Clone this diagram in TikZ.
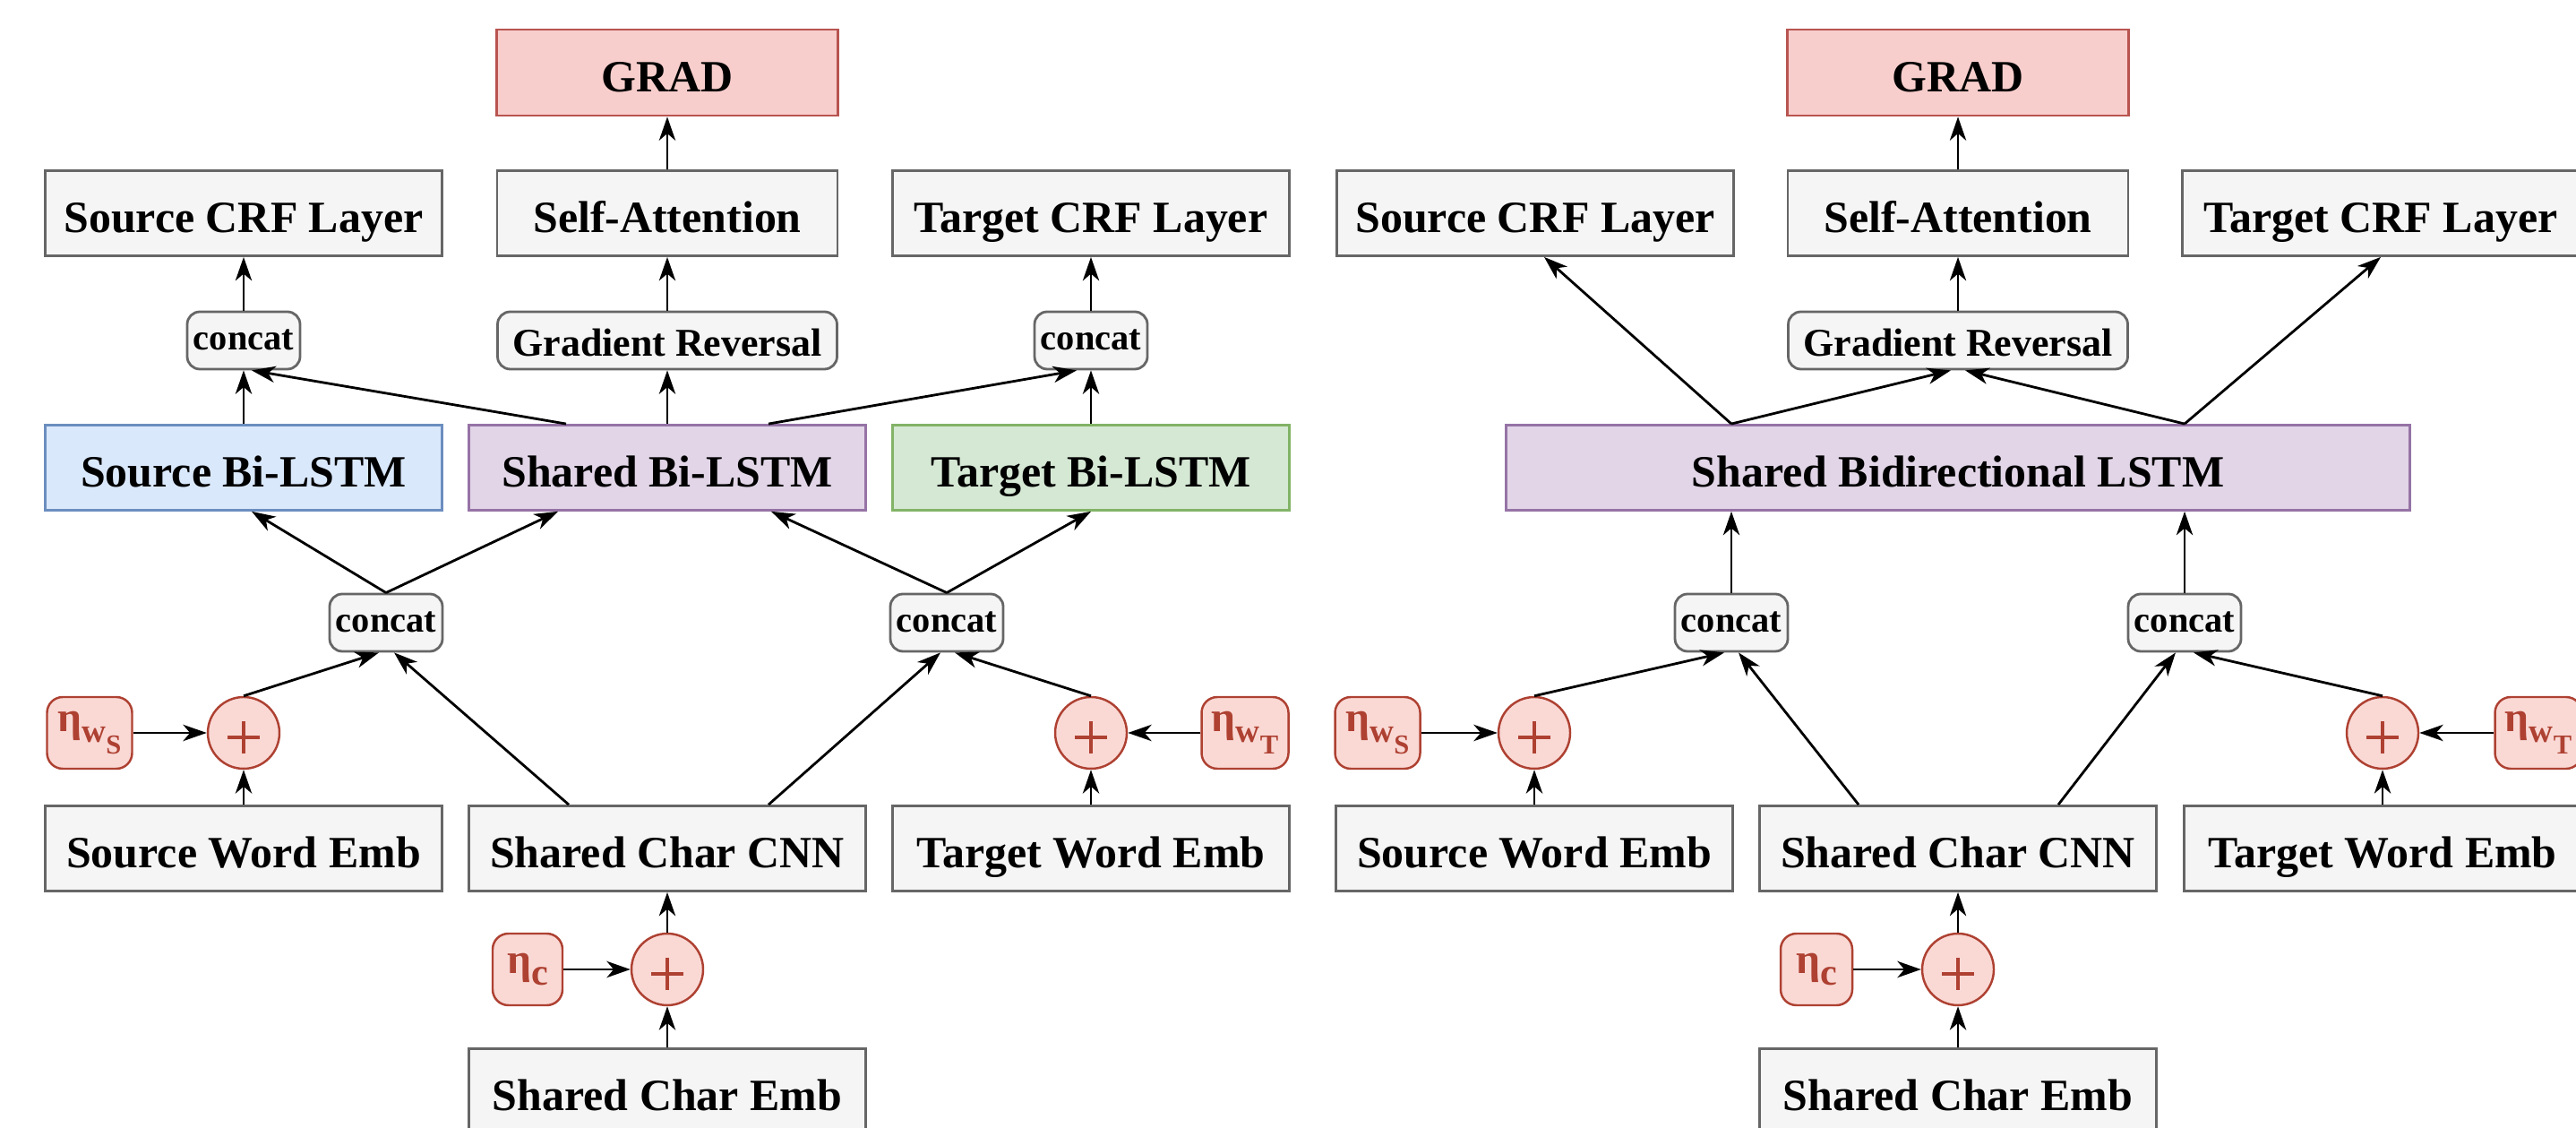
\documentclass[tikz,border=0pt]{standalone}
\usepackage{fontspec}
\setmainfont{Liberation Serif}
\usepackage{tikz}
\usetikzlibrary{arrows.meta, positioning, calc}

\definecolor{boxgray}{HTML}{F5F5F5}
\definecolor{edgegray}{HTML}{666666}
\definecolor{gradfill}{HTML}{F8CECC}
\definecolor{graddraw}{HTML}{B85450}
\definecolor{srcfill}{HTML}{DAE8FC}
\definecolor{srcdraw}{HTML}{6C8EBF}
\definecolor{shfill}{HTML}{E1D5E7}
\definecolor{shdraw}{HTML}{9673A6}
\definecolor{tgtfill}{HTML}{D5E8D4}
\definecolor{tgtdraw}{HTML}{82B366}
\definecolor{noisefill}{HTML}{FAD9D5}
\definecolor{noisedraw}{HTML}{AE4132}

\begin{document}
\begin{tikzpicture}[
    layer/.style = {rectangle, draw=edgegray, fill=boxgray, line width=0.8pt, minimum width=4.43cm, minimum height=0.95cm, inner sep=0pt, text height=12.6pt, text depth=0.4pt, font=\fontsize{14.2}{16}\selectfont\bfseries},
    gradbox/.style = {layer, draw=graddraw, fill=gradfill, minimum width=3.81cm, minimum height=0.96cm},
    concat/.style = {layer, rounded corners=4pt, minimum width=1.26cm, minimum height=0.64cm, text height=8pt, text depth=2pt, font=\fontsize{11.5}{13}\selectfont\bfseries},
    grl/.style = {concat, minimum width=3.79cm, text height=11pt, text depth=0.8pt, font=\fontsize{12.5}{14}\selectfont\bfseries},
    noise/.style = {rectangle, rounded corners=5pt, draw=noisedraw, fill=noisefill, line width=0.7pt, minimum width=0.95cm, minimum height=0.80cm, inner sep=0pt, text=noisedraw, font=\fontsize{13.5}{14}\selectfont\bfseries},
    plus/.style = {circle, draw=noisedraw, fill=noisefill, line width=0.7pt, minimum size=0.80cm, inner sep=0pt,
        path picture={\draw[noisedraw, line width=1.1pt]
            ($(path picture bounding box.center)+(-0.18,-0.05)$) -- ++(0.36,0)
            ($(path picture bounding box.center)+(0,-0.23)$) -- ++(0,0.36);}},
    flow/.style = {-{Stealth[length=7.5pt, width=5.2pt, inset=2.2pt]}, line width=0.8pt}
]
\useasboundingbox (0,0) rectangle (28.76,12.59);

% ---------------- left panel ----------------
\node[gradbox] (Lgrad) at (7.45,11.78) {GRAD};
\node[layer] (Lsrccrf) at (2.72,10.21) {Source CRF Layer};
\node[layer, minimum width=3.80cm] (Latt) at (7.45,10.21) {Self-Attention};
\node[layer] (Ltgtcrf) at (12.18,10.21) {Target CRF Layer};
\node[concat] (Lcattop1) at (2.72,8.79) {concat};
\node[grl] (Lgrl) at (7.45,8.79) {Gradient Reversal};
\node[concat] (Lcattop2) at (12.18,8.79) {concat};
\node[layer, fill=srcfill, draw=srcdraw] (Lsrclstm) at (2.72,7.37) {Source Bi-LSTM};
\node[layer, fill=shfill, draw=shdraw] (Lshlstm) at (7.45,7.37) {Shared Bi-LSTM};
\node[layer, fill=tgtfill, draw=tgtdraw] (Ltgtlstm) at (12.18,7.37) {Target Bi-LSTM};
\node[concat] (Lcat1) at (4.31,5.64) {concat};
\node[concat] (Lcat2) at (10.57,5.64) {concat};
\node[noise] (Lnoisews) at (1.00,4.41) {η\raisebox{-3.4pt}{\fontsize{10.6}{11}\selectfont w\raisebox{-3.6pt}{\fontsize{8.7}{9}\selectfont S}}};
\node[plus] (Lplus1) at (2.72,4.41) {};
\node[plus] (Lplus2) at (12.18,4.41) {};
\node[noise, minimum width=0.97cm] (Lnoisewt) at (13.90,4.41) {η\raisebox{-3.4pt}{\fontsize{10.6}{11}\selectfont w\raisebox{-3.6pt}{\fontsize{8.7}{9}\selectfont T}}};
\node[layer] (Lsrcemb) at (2.72,3.12) {Source Word Emb};
\node[layer] (Lcnn) at (7.45,3.12) {Shared Char CNN};
\node[layer] (Ltgtemb) at (12.18,3.12) {Target Word Emb};
\node[noise, minimum width=0.78cm] (Lnoisec) at (5.89,1.77) {η\raisebox{-3.6pt}{\fontsize{12}{12}\selectfont c}};
\node[plus] (Lplusc) at (7.45,1.77) {};
\node[layer] (Lcharemb) at (7.45,0.41) {Shared Char Emb};

% bottom inputs
\draw[flow] (Lcharemb) -- (Lplusc);
\draw[flow] (Lnoisec) -- (Lplusc);
\draw[flow] (Lplusc) -- (Lcnn);
\draw[flow] (Lsrcemb) -- (Lplus1);
\draw[flow] (Lnoisews) -- (Lplus1);
\draw[flow] (Ltgtemb) -- (Lplus2);
\draw[flow] (Lnoisewt) -- (Lplus2);

% into the lower concats
\draw[flow] (Lplus1.north) -- ($(Lcat1.south)+(-0.08,0)$);
\draw[flow] ($(Lcnn.north)+(-1.10,0)$) -- ($(Lcat1.south)+(0.09,0)$);
\draw[flow] ($(Lcnn.north)+(1.13,0)$) -- ($(Lcat2.south)+(-0.07,0)$);
\draw[flow] (Lplus2.north) -- ($(Lcat2.south)+(0.09,0)$);

% concats to the Bi-LSTMs
\draw[flow] (Lcat1.north) -- ($(Lsrclstm.south)+(0.09,0)$);
\draw[flow] (Lcat1.north) -- ($(Lshlstm.south)+(-1.22,0)$);
\draw[flow] (Lcat2.north) -- ($(Lshlstm.south)+(1.16,0)$);
\draw[flow] (Lcat2.north) -- (Ltgtlstm.south);

% Bi-LSTMs upwards
\draw[flow] (Lsrclstm) -- (Lcattop1);
\draw[flow] (Ltgtlstm) -- (Lcattop2);
\draw[flow] (Lshlstm) -- (Lgrl);
\draw[flow] ($(Lshlstm.north)+(-1.13,0)$) -- ($(Lcattop1.south)+(0.09,0)$);
\draw[flow] ($(Lshlstm.north)+(1.13,0)$) -- ($(Lcattop2.south)+(-0.16,0)$);
\draw[flow] (Lcattop1) -- (Lsrccrf);
\draw[flow] (Lcattop2) -- (Ltgtcrf);
\draw[flow] (Lgrl) -- (Latt);
\draw[flow] (Latt) -- (Lgrad);

% ---------------- right panel ----------------
\node[gradbox] (Rgrad) at (21.86,11.78) {GRAD};
\node[layer] (Rsrccrf) at (17.14,10.21) {Source CRF Layer};
\node[layer, minimum width=3.80cm] (Ratt) at (21.86,10.21) {Self-Attention};
\node[layer] (Rtgtcrf) at (26.58,10.21) {Target CRF Layer};
\node[grl] (Rgrl) at (21.86,8.79) {Gradient Reversal};
\node[layer, fill=shfill, draw=shdraw, minimum width=10.09cm] (Rshlstm) at (21.86,7.37) {Shared Bidirectional LSTM};
\node[concat] (Rcat1) at (19.33,5.64) {concat};
\node[concat] (Rcat2) at (24.39,5.64) {concat};
\node[noise] (Rnoisews) at (15.38,4.41) {η\raisebox{-3.4pt}{\fontsize{10.6}{11}\selectfont w\raisebox{-3.6pt}{\fontsize{8.7}{9}\selectfont S}}};
\node[plus] (Rplus1) at (17.13,4.41) {};
\node[plus] (Rplus2) at (26.60,4.41) {};
\node[noise, minimum width=0.97cm] (Rnoisewt) at (28.34,4.41) {η\raisebox{-3.4pt}{\fontsize{10.6}{11}\selectfont w\raisebox{-3.6pt}{\fontsize{8.7}{9}\selectfont T}}};
\node[layer] (Rsrcemb) at (17.13,3.12) {Source Word Emb};
\node[layer] (Rcnn) at (21.86,3.12) {Shared Char CNN};
\node[layer] (Rtgtemb) at (26.60,3.12) {Target Word Emb};
\node[noise, minimum width=0.80cm] (Rnoisec) at (20.28,1.77) {η\raisebox{-3.6pt}{\fontsize{12}{12}\selectfont c}};
\node[plus] (Rplusc) at (21.86,1.77) {};
\node[layer] (Rcharemb) at (21.86,0.41) {Shared Char Emb};

% bottom inputs
\draw[flow] (Rcharemb) -- (Rplusc);
\draw[flow] (Rnoisec) -- (Rplusc);
\draw[flow] (Rplusc) -- (Rcnn);
\draw[flow] (Rsrcemb) -- (Rplus1);
\draw[flow] (Rnoisews) -- (Rplus1);
\draw[flow] (Rtgtemb) -- (Rplus2);
\draw[flow] (Rnoisewt) -- (Rplus2);

% into the concats
\draw[flow] (Rplus1.north) -- ($(Rcat1.south)+(-0.08,0)$);
\draw[flow] ($(Rcnn.north)+(-1.11,0)$) -- ($(Rcat1.south)+(0.08,0)$);
\draw[flow] ($(Rcnn.north)+(1.12,0)$) -- ($(Rcat2.south)+(-0.1,0)$);
\draw[flow] (Rplus2.north) -- ($(Rcat2.south)+(0.1,0)$);

% concats to the shared LSTM
\draw[flow] (Rcat1) -- (Rcat1 |- Rshlstm.south);
\draw[flow] (Rcat2) -- (Rcat2 |- Rshlstm.south);

% shared LSTM upwards
\draw[flow] ($(Rshlstm.north)+(-2.53,0)$) -- ($(Rsrccrf.south)+(0.1,0)$);
\draw[flow] ($(Rshlstm.north)+(-2.53,0)$) -- ($(Rgrl.south)+(-0.08,0)$);
\draw[flow] ($(Rshlstm.north)+(2.53,0)$) -- ($(Rgrl.south)+(0.08,0)$);
\draw[flow] ($(Rshlstm.north)+(2.53,0)$) -- (Rtgtcrf.south);
\draw[flow] (Rgrl) -- (Ratt);
\draw[flow] (Ratt) -- (Rgrad);

\end{tikzpicture}
\end{document}
